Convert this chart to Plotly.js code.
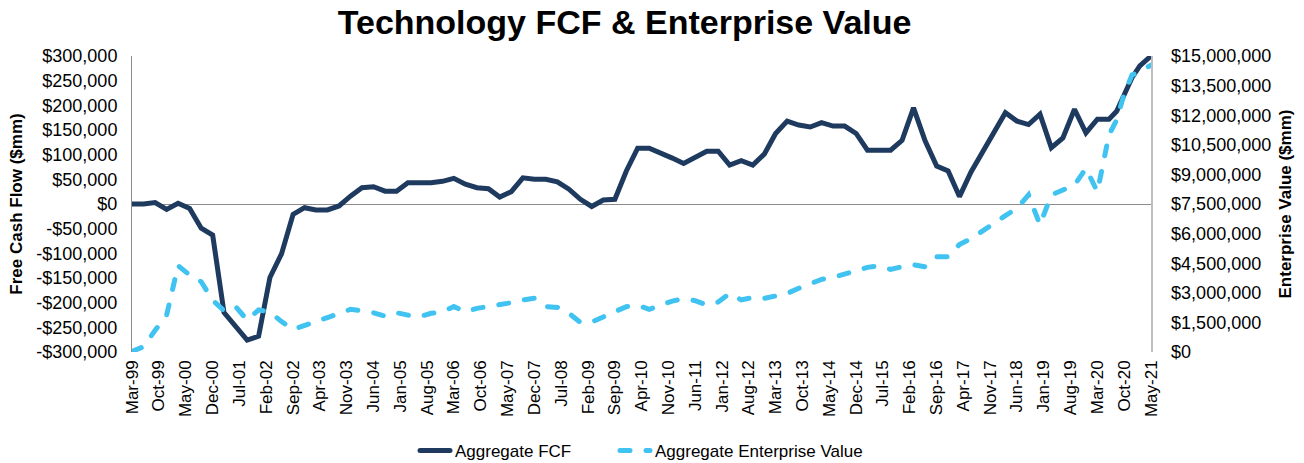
<!DOCTYPE html>
<html>
<head>
<meta charset="utf-8">
<script src="https://cdn.plot.ly/plotly-3.0.1.min.js"></script>
<style>
  html, body { margin: 0; padding: 0; background: #fff; }
  #chart { width: 1304px; height: 463px; }
  path.js-line { stroke-linecap: round; }
</style>
</head>
<body>
<div id="chart"></div>
<script>
// ---- Data (values in $mm) ----
const dates = [
  '1999-03','1999-06','1999-09','1999-12',
  '2000-03','2000-06','2000-09','2000-12',
  '2001-03','2001-06','2001-09','2001-12',
  '2002-03','2002-06','2002-09','2002-12',
  '2003-03','2003-06','2003-09','2003-12',
  '2004-03','2004-06','2004-09','2004-12',
  '2005-03','2005-06','2005-09','2005-12',
  '2006-03','2006-06','2006-09','2006-12',
  '2007-03','2007-06','2007-09','2007-12',
  '2008-03','2008-06','2008-09','2008-12',
  '2009-03','2009-06','2009-09','2009-12',
  '2010-03','2010-06','2010-09','2010-12',
  '2011-03','2011-06','2011-09','2011-12',
  '2012-03','2012-06','2012-09','2012-12',
  '2013-03','2013-06','2013-09','2013-12',
  '2014-03','2014-06','2014-09','2014-12',
  '2015-03','2015-06','2015-09','2015-12',
  '2016-03','2016-06','2016-09','2016-12',
  '2017-03','2017-06','2017-09','2017-12',
  '2018-03','2018-06','2018-09','2018-12',
  '2019-03','2019-06','2019-09','2019-12',
  '2020-03','2020-06','2020-08','2020-10','2020-12',
  '2021-02','2021-05'
];

const aggregateFCF = [
  0, 0, 3000, -11000,
  1500, -9000, -49000, -63000,
  -220000, -248000, -276000, -268000,
  -149000, -101000, -21000, -7500,
  -12000, -12000, -4000, 16000,
  33000, 35000, 26000, 26000,
  43000, 43000, 43000, 46000,
  52000, 40000, 33000, 31000,
  14000, 25000, 53000, 50000,
  50000, 45000, 30000, 9500,
  -5000, 8000, 9500, 67000,
  113000, 113000, 104000, 93000,
  82000, 95000, 107000, 107000,
  79000, 88000, 79000, 101000,
  143000, 168000, 160000, 156000,
  165000, 158000, 158000, 143000,
  109000, 109000, 109000, 129000,
  195000, 128000, 77000, 67000,
  15000, 65000, 105000, 146000,
  185000, 168000, 161000, 182000,
  114000, 134000, 192000, 144000,
  172000, 172000, 188000, 222000, 256000,
  280000, 300000
];

const aggregateEV = [
  30000, 270000, 1100000, 1870000,
  4380000, 3900000, 3560000, 2630000,
  2090000, 2300000, 1620000, 2130000,
  2040000, 1540000, 1150000, 1370000,
  1540000, 1740000, 1960000, 2160000,
  2090000, 1990000, 1820000, 1990000,
  1870000, 1790000, 1960000, 2040000,
  2300000, 2040000, 2210000, 2300000,
  2350000, 2500000, 2640000, 2720000,
  2300000, 2260000, 1960000, 1500000,
  1520000, 1790000, 2040000, 2300000,
  2370000, 2160000, 2380000, 2580000,
  2700000, 2600000, 2380000, 2530000,
  2970000, 2640000, 2770000, 2720000,
  2840000, 2970000, 3230000, 3480000,
  3680000, 3780000, 3950000, 4100000,
  4290000, 4360000, 4190000, 4320000,
  4420000, 4320000, 4830000, 4830000,
  5450000, 5740000, 6150000, 6550000,
  6910000, 7280000, 7960000, 6440000,
  7960000, 8210000, 8460000, 9310000,
  8120000, 11000000, 11760000, 13100000, 14040000,
  14200000, 14540000
];

const xTickLabels = [
  'Mar-99','Oct-99','May-00','Dec-00','Jul-01','Feb-02','Sep-02','Apr-03','Nov-03','Jun-04',
  'Jan-05','Aug-05','Mar-06','Oct-06','May-07','Dec-07','Jul-08','Feb-09','Sep-09','Apr-10',
  'Nov-10','Jun-11','Jan-12','Aug-12','Mar-13','Oct-13','May-14','Dec-14','Jul-15','Feb-16',
  'Sep-16','Apr-17','Nov-17','Jun-18','Jan-19','Aug-19','Mar-20','Oct-20','May-21'
];

const leftTickVals = [-300000,-250000,-200000,-150000,-100000,-50000,0,50000,100000,150000,200000,250000,300000];
const leftTickText = ['-$300,000','-$250,000','-$200,000','-$150,000','-$100,000','-$50,000','$0',
  '$50,000','$100,000','$150,000','$200,000','$250,000','$300,000'];

const rightTickVals = [0,1500000,3000000,4500000,6000000,7500000,9000000,10500000,12000000,13500000,15000000];
const rightTickText = ['$0','$1,500,000','$3,000,000','$4,500,000','$6,000,000','$7,500,000',
  '$9,000,000','$10,500,000','$12,000,000','$13,500,000','$15,000,000'];

// ---- Build ----
const MONTHS = {Jan:'01',Feb:'02',Mar:'03',Apr:'04',May:'05',Jun:'06',Jul:'07',Aug:'08',Sep:'09',Oct:'10',Nov:'11',Dec:'12'};
const xTickVals = xTickLabels.map(l => {
  const [m, y] = l.split('-');
  return (+y > 50 ? '19' : '20') + y + '-' + MONTHS[m] + '-01';
});

const FONT = '"Liberation Sans", Arial, Helvetica, sans-serif';
const NAVY = '#1f3a5f';
const SKY = '#41c3f2';

const traces = [
  {
    x: dates, y: aggregateFCF, name: 'Aggregate FCF', type: 'scatter', mode: 'lines',
    line: {color: NAVY, width: 5, shape: 'linear'}, yaxis: 'y', legend: 'legend'
  },
  {
    x: dates, y: aggregateEV, name: 'Aggregate Enterprise Value', type: 'scatter', mode: 'lines',
    line: {color: SKY, width: 5, dash: '10px,16px'}, yaxis: 'y2', legend: 'legend2'
  }
];

const legendBase = {
  orientation: 'h', xanchor: 'left', xref: 'container',
  y: 1 - 451/463, yanchor: 'middle', yref: 'container',
  font: {family: FONT, size: 17, color: '#000000'},
  bgcolor: 'rgba(0,0,0,0)', itemwidth: 30
};

const layout = {
  width: 1304, height: 463,
  margin: {l: 132, r: 153, t: 56, b: 111, pad: 0, autoexpand: false},
  paper_bgcolor: '#ffffff', plot_bgcolor: 'rgba(0,0,0,0)',
  font: {family: FONT, color: '#000000', size: 17},
  title: {
    text: '<b>Technology FCF & Enterprise Value</b>',
    font: {family: FONT, size: 34, color: '#000000'},
    x: 0.479, xanchor: 'center', xref: 'container',
    y: 1 - 22/463, yanchor: 'middle', yref: 'container'
  },
  showlegend: true,
  legend: Object.assign({}, legendBase, {x: 415/1304}),
  legend2: Object.assign({}, legendBase, {x: 615/1304}),
  xaxis: {
    type: 'date',
    range: ['1999-03-01', '2021-05-01'],
    tickmode: 'array', tickvals: xTickVals, ticktext: xTickLabels,
    tickangle: -90, ticks: '', showgrid: false, showline: false, zeroline: false,
    tickfont: {family: FONT, size: 17, color: '#000000'},
    ticklabelstandoff: 4,
    automargin: false, fixedrange: true
  },
  yaxis: {
    range: [-300000, 300000],
    tickmode: 'array', tickvals: leftTickVals, ticktext: leftTickText,
    ticks: '', showgrid: false,
    showline: true, linecolor: '#8c8c8c', linewidth: 1,
    zeroline: true, zerolinecolor: '#8c8c8c', zerolinewidth: 1,
    tickfont: {family: FONT, size: 18, color: '#000000'},
    ticklabelstandoff: 10,
    title: {text: '<b>Free Cash Flow ($mm)</b>', font: {family: FONT, size: 17, color: '#000000'}, standoff: 9},
    automargin: false, fixedrange: true
  },
  yaxis2: {
    overlaying: 'y', side: 'right',
    range: [0, 15000000],
    tickmode: 'array', tickvals: rightTickVals, ticktext: rightTickText,
    ticks: '', showgrid: false,
    showline: true, linecolor: '#bfbfbf', linewidth: 1.5,
    zeroline: false,
    tickfont: {family: FONT, size: 18, color: '#000000'},
    ticklabelstandoff: 15,
    title: {text: '<b>Enterprise Value ($mm)</b>', font: {family: FONT, size: 17, color: '#000000'}, standoff: 9},
    automargin: false, fixedrange: true
  }
};

Plotly.newPlot('chart', traces, layout, {displayModeBar: false, staticPlot: true});
</script>
</body>
</html>
